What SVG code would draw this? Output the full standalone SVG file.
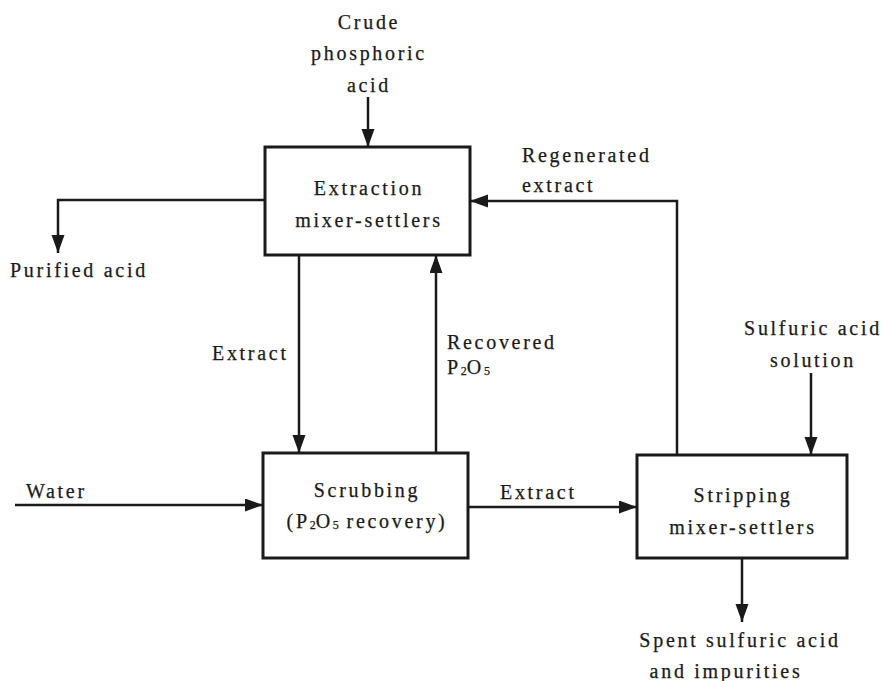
<svg xmlns="http://www.w3.org/2000/svg" width="883" height="681" viewBox="0 0 883 681" font-family="'Liberation Serif', 'DejaVu Serif', serif">
<style>
text{font-family:'Liberation Serif','DejaVu Serif',serif;font-size:20px;letter-spacing:2.7px;fill:#1a1a1a;stroke:#1a1a1a;stroke-width:0.25}
.c{text-anchor:middle}
.box{fill:#fff;stroke:#1a1a1a;stroke-width:3}
.ln{fill:none;stroke:#1a1a1a;stroke-width:2.5}
.sub{font-size:12px;letter-spacing:0}
</style>
<defs>
<marker id="ah" markerUnits="userSpaceOnUse" markerWidth="20" markerHeight="14" refX="18" refY="6.5" orient="auto">
<path d="M0,0 L18,6.5 L0,13 z" fill="#1a1a1a"/>
</marker>
</defs>
<g id="connectors">
<line class="ln" x1="368" y1="97" x2="368" y2="147" marker-end="url(#ah)"/>
<path class="ln" d="M265,200 H58 V253" marker-end="url(#ah)"/>
<line class="ln" x1="299" y1="255" x2="299" y2="453" marker-end="url(#ah)"/>
<line class="ln" x1="436" y1="453" x2="436" y2="255" marker-end="url(#ah)"/>
<path class="ln" d="M677,455 V201 H470" marker-end="url(#ah)"/>
<line class="ln" x1="811" y1="373" x2="811" y2="455" marker-end="url(#ah)"/>
<line class="ln" x1="742" y1="558" x2="742" y2="622" marker-end="url(#ah)"/>
<line class="ln" x1="15" y1="505" x2="263" y2="505" marker-end="url(#ah)"/>
<line class="ln" x1="468" y1="507" x2="637" y2="507" marker-end="url(#ah)"/>
</g>
<g id="extraction">
<rect class="box" x="265" y="147" width="205" height="108"/>
<text class="c" x="369" y="195">Extraction</text>
<text class="c" x="369" y="227">mixer-settlers</text>
</g>
<g id="scrubbing">
<rect class="box" x="263" y="453" width="205" height="105"/>
<text class="c" x="367" y="497">Scrubbing</text>
<text class="c" x="367" y="528">(P<tspan class="sub" dy="1">2</tspan><tspan dy="-1">O</tspan><tspan class="sub" dy="1">5</tspan><tspan dy="-1"> recovery)</tspan></text>
</g>
<g id="stripping">
<rect class="box" x="637" y="455" width="210" height="103"/>
<text class="c" x="743" y="502">Stripping</text>
<text class="c" x="743" y="534">mixer-settlers</text>
</g>
<g id="labels">
<text class="c" x="369" y="29">Crude</text>
<text class="c" x="369" y="60">phosphoric</text>
<text class="c" x="369" y="92">acid</text>
<text x="10" y="277">Purified acid</text>
<text x="212" y="360">Extract</text>
<text x="447" y="349">Recovered</text>
<text x="447" y="374">P<tspan class="sub" dy="1">2</tspan><tspan dy="-1">O</tspan><tspan class="sub" dy="1">5</tspan></text>
<text x="522" y="162">Regenerated</text>
<text x="522" y="192">extract</text>
<text class="c" x="813" y="335">Sulfuric acid</text>
<text class="c" x="813" y="367">solution</text>
<text x="26" y="498">Water</text>
<text x="500" y="499">Extract</text>
<text class="c" x="740" y="647">Spent sulfuric acid</text>
<text class="c" x="726" y="678">and impurities</text>
</g>
</svg>
